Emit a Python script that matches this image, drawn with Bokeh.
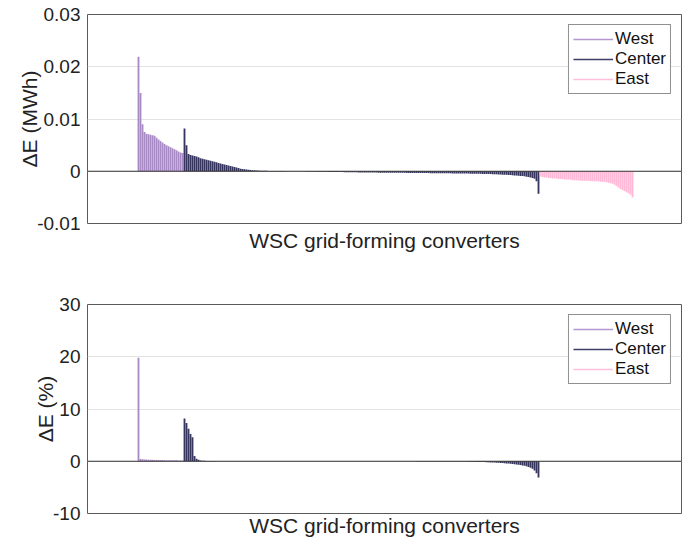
import numpy as np
from bokeh.plotting import figure
from bokeh.layouts import column
from bokeh.models import (ColumnDataSource, FixedTicker, Span, Legend, LegendItem,
                          Range1d)
from bokeh.embed import file_html
from bokeh.resources import INLINE

regions = ["West", "Center", "East"]
bar_colors = {"West": "#A88BC4", "Center": "#36365E", "East": "#FFB8D6"}
legend_colors = {"West": "#B497CF", "Center": "#3E3E66", "East": "#FFBFDA"}

x_label = "WSC grid-forming converters"
top_ylabel = "\u0394E (MWh)"
bot_ylabel = "\u0394E (%)"
top_ticks = [-0.01, 0, 0.01, 0.02, 0.03]
top_tick_labels = ["-0.01", "0", "0.01", "0.02", "0.03"]
bot_ticks = [-10, 0, 10, 20, 30]
bot_tick_labels = ["-10", "0", "10", "20", "30"]

# ---- energy deviation (MWh), sorted per region ----
west_mwh = [0.0219, 0.0150, 0.0090, 0.0075, 0.0072, 0.0071, 0.0070, 0.0069, 0.0068, 0.0064,
            0.0061, 0.0058, 0.0055, 0.0052, 0.0050, 0.0048, 0.0046, 0.0044, 0.0042, 0.0040,
            0.0038, 0.0036, 0.0035]
center_mwh = [0.0082, 0.0050, 0.0033, 0.0031, 0.0030, 0.0029, 0.0028, 0.0027, 0.0025, 0.0024,
              0.0023, 0.0022, 0.0021, 0.0020, 0.0019, 0.0018, 0.0017, 0.0016, 0.0015, 0.0014,
              0.0013, 0.0012, 0.0011, 0.0010, 0.0009, 0.0008, 0.0007, 0.0006, 0.0005, 0.00045,
              0.0004, 0.00035, 0.0003, 0.00025, 0.0002, 0.00018, 0.00015, 0.00013, 0.00011, 0.0001,
              0.00009, 0.00008, 0.00007, 0.00006, 0.00006, 0.00005, 0.00005, 0.00004, 0.00004, 0.00003,
              0.00003, 0.00002, 0.00002, 0.00002, 0.00001, 0.00001, 0.00001, 0.0, 0.0, -0.00001,
              -0.00002, -0.00003, -0.00004, -0.00005, -0.00006, -0.00007, -0.00008, -0.00009, -0.0001, -0.0001,
              -0.00010, -0.00011, -0.00012, -0.00012, -0.00013, -0.00014, -0.00014, -0.00015, -0.00016, -0.00016,
              -0.00017, -0.00018, -0.00018, -0.00019, -0.00020, -0.00020, -0.00021, -0.00022, -0.00022, -0.00023,
              -0.00023, -0.00024, -0.00024, -0.00025, -0.00025, -0.00026, -0.00026, -0.00027, -0.00027, -0.00028,
              -0.00028, -0.00028, -0.00029, -0.00029, -0.00029, -0.00030, -0.00030, -0.00030, -0.00031, -0.00031,
              -0.00031, -0.00032, -0.00032, -0.00032, -0.00033, -0.00033, -0.00033, -0.00034, -0.00034, -0.00034,
              -0.00035, -0.00035, -0.00035, -0.00036, -0.00036, -0.00036, -0.00037, -0.00037, -0.00038, -0.00038,
              -0.00039, -0.00039, -0.00040, -0.00040, -0.00041, -0.00041, -0.00042, -0.00042, -0.00043, -0.00043,
              -0.00044, -0.00045, -0.00045, -0.00046, -0.00047, -0.00047, -0.00048, -0.00049, -0.00050, -0.00051,
              -0.00052, -0.00053, -0.00054, -0.00055, -0.00056, -0.00058, -0.00059, -0.00061, -0.00063, -0.00065,
              -0.00067, -0.00069, -0.00071, -0.00073, -0.00076, -0.00079, -0.00082, -0.00085, -0.00089, -0.00093,
              -0.00098, -0.00104, -0.00110, -0.00118, -0.00128, -0.00145, -0.00190, -0.0043]
east_mwh = [-0.0010, -0.0011, -0.0012, -0.0012, -0.0013, -0.0013, -0.0014, -0.0014, -0.0014, -0.0015,
            -0.0015, -0.0015, -0.0016, -0.0016, -0.0016, -0.0016, -0.0017, -0.0017, -0.0017, -0.0017,
            -0.0018, -0.0018, -0.0018, -0.0018, -0.0018, -0.0019, -0.0019, -0.0019, -0.0019, -0.0019,
            -0.0020, -0.0020, -0.0020, -0.0021, -0.0022, -0.0023, -0.0024, -0.0026, -0.0028, -0.0031,
            -0.0034, -0.0036, -0.0038, -0.0040, -0.0042, -0.0045, -0.0050]

# ---- energy deviation (%), same converter order ----
west_pct = [19.8, 0.45, 0.40, 0.35, 0.32, 0.30, 0.28, 0.27, 0.26, 0.25,
            0.24, 0.23, 0.22, 0.21, 0.20, 0.20, 0.19, 0.18, 0.18, 0.17,
            0.16, 0.16, 0.15]
center_pct = [8.2, 7.3, 6.2, 5.2, 4.6, 1.0, 0.5, 0.3, 0.15, 0.10,
              0.08, 0.06, 0.05, 0.04, 0.03, 0.03, 0.02, 0.02, 0.02, 0.01,
              0.01, 0.01, 0.01, 0.01, 0.01, 0.01, 0.01, 0.01, 0.01, 0.01,
              0.01, 0.01, 0.01, 0.01, 0.01, 0.01, 0.01, 0.01, 0.01, 0.01,
              0.01, 0.01, 0.01, 0.01, 0.01, 0.0, 0.0, 0.0, 0.0, 0.0,
              0.0, 0.0, 0.0, 0.0, 0.0, 0.0, 0.0, 0.0, 0.0, 0.0,
              0.0, 0.0, 0.0, 0.0, 0.0, 0.0, 0.0, 0.0, 0.0, 0.0,
              0.0, 0.0, 0.0, 0.0, 0.0, 0.0, 0.0, 0.0, 0.0, 0.0,
              0.0, 0.0, 0.0, 0.0, 0.0, 0.0, 0.0, 0.0, 0.0, 0.0,
              0.0, 0.0, 0.0, 0.0, 0.0, -0.01, -0.01, -0.01, -0.01, -0.01,
              -0.01, -0.01, -0.01, -0.01, -0.01, -0.02, -0.02, -0.02, -0.02, -0.02,
              -0.02, -0.02, -0.02, -0.02, -0.02, -0.02, -0.03, -0.03, -0.03, -0.03,
              -0.03, -0.03, -0.03, -0.03, -0.03, -0.04, -0.04, -0.04, -0.04, -0.04,
              -0.04, -0.04, -0.04, -0.05, -0.05, -0.05, -0.05, -0.05, -0.05, -0.05,
              -0.06, -0.07, -0.08, -0.09, -0.10, -0.11, -0.12, -0.13, -0.14, -0.15,
              -0.16, -0.18, -0.20, -0.22, -0.24, -0.26, -0.28, -0.30, -0.32, -0.35,
              -0.38, -0.41, -0.44, -0.48, -0.52, -0.56, -0.61, -0.66, -0.72, -0.80,
              -0.88, -0.98, -1.10, -1.25, -1.45, -1.75, -2.30, -3.10]
east_pct = [0.0, 0.0, 0.0, 0.0, 0.0, 0.0, 0.0, 0.0, 0.0, 0.0,
            0.0, 0.0, 0.0, 0.0, 0.0, 0.0, 0.0, 0.0, 0.0, 0.0,
            0.0, 0.0, 0.0, 0.0, 0.0, 0.0, 0.0, 0.0, 0.0, 0.0,
            0.0, 0.0, 0.0, 0.0, 0.0, 0.0, 0.0, 0.0, 0.0, 0.0,
            -0.01, -0.01, -0.02, -0.02, -0.03, -0.04, -0.05]

FONT = "Liberation Sans"


def make_fig(series, ylabel, yticks, ylabels, yrange, height, border_bottom, xlabel_standoff):
    n_total = sum(len(s) for s in series)
    p = figure(width=684, height=height, output_backend="svg", toolbar_location=None,
               x_range=Range1d(-25.5, n_total + 23.5), y_range=Range1d(*yrange),
               min_border_left=87, min_border_right=3, min_border_top=14,
               min_border_bottom=border_bottom)
    p.background_fill_color = "white"
    p.border_fill_color = "white"
    p.outline_line_color = "#5a5a5a"
    p.outline_line_width = 1

    start = 0
    for name, vals in zip(regions, series):
        idx = np.arange(start, start + len(vals))
        src = ColumnDataSource(dict(x=idx, top=vals))
        p.vbar(x="x", top="top", bottom=0, width=0.92, source=src,
               fill_color=bar_colors[name], line_color=None)
        start += len(vals)

    legend_items = []
    for name in regions:
        proxy = p.line(x=[0], y=[float("nan")], line_color=legend_colors[name], line_width=1.5)
        legend_items.append(LegendItem(label=name, renderers=[proxy]))

    p.add_layout(Span(location=0, dimension="width", line_color="#333333", line_width=1))

    leg = Legend(items=legend_items, location="top_right")
    leg.margin = 10
    leg.padding = 4
    leg.spacing = 0
    leg.label_text_font = FONT
    leg.label_text_font_size = "17px"
    leg.label_text_color = "#111111"
    leg.label_height = 20
    leg.glyph_height = 20
    leg.glyph_width = 40
    leg.label_standoff = 2
    leg.border_line_color = "#222222"
    leg.border_line_width = 1
    leg.background_fill_alpha = 1.0
    p.add_layout(leg, "center")

    ya = p.yaxis[0]
    ya.ticker = FixedTicker(ticks=yticks)
    ya.major_label_overrides = {t: l for t, l in zip(yticks, ylabels)}
    ya.axis_line_color = None
    ya.major_tick_in = 0
    ya.major_tick_out = 0
    ya.minor_tick_line_color = None
    ya.major_label_text_font = FONT
    ya.major_label_text_font_size = "19px"
    ya.major_label_text_color = "#222222"
    ya.major_label_standoff = 7
    ya.axis_label = ylabel
    ya.axis_label_text_font = FONT
    ya.axis_label_text_font_size = "21px"
    ya.axis_label_text_font_style = "normal"
    ya.axis_label_text_color = "#222222"
    ya.axis_label_standoff = -7

    xa = p.xaxis[0]
    xa.ticker = FixedTicker(ticks=[])
    xa.axis_line_color = None
    xa.major_tick_in = 0
    xa.major_tick_out = 0
    xa.minor_tick_line_color = None
    xa.major_label_standoff = 0
    xa.axis_label = x_label
    xa.axis_label_text_font = FONT
    xa.axis_label_text_font_size = "21px"
    xa.axis_label_text_font_style = "normal"
    xa.axis_label_text_color = "#222222"
    xa.axis_label_standoff = xlabel_standoff

    p.xgrid.visible = False
    p.ygrid.ticker = FixedTicker(ticks=yticks)
    p.ygrid.grid_line_color = "#e3e3e3"
    p.ygrid.grid_line_width = 1
    return p


p1 = make_fig([west_mwh, center_mwh, east_mwh], top_ylabel, top_ticks, top_tick_labels,
              (-0.01, 0.03), 290, 67, 5)
p2 = make_fig([west_pct, center_pct, east_pct], bot_ylabel, bot_ticks, bot_tick_labels,
              (-10, 30), 255, 32, 0)

layout = column(p1, p2, spacing=0)
open("out.html", "w").write(file_html(layout, INLINE))
